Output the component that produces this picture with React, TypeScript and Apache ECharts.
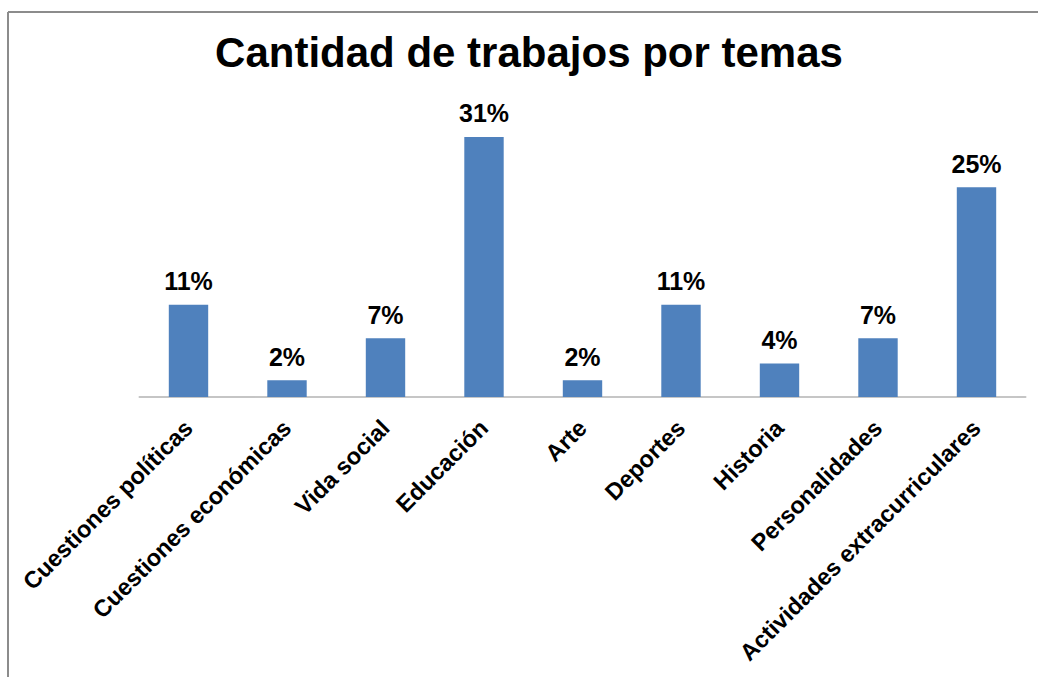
import React, { useEffect, useRef } from "react";
import * as echarts from "echarts";

const categories: string[] = [
  "Cuestiones políticas",
  "Cuestiones económicas",
  "Vida social",
  "Educación",
  "Arte",
  "Deportes",
  "Historia",
  "Personalidades",
  "Actividades extracurriculares",
];
const values: number[] = [11, 2, 7, 31, 2, 11, 4, 7, 25];
const titleText = "Cantidad de trabajos por temas";

const FONT = "'Liberation Sans', Arial, sans-serif";

export default function App() {
  const ref = useRef<HTMLDivElement>(null);
  useEffect(() => {
    if (!ref.current) return;
    const chart = echarts.init(ref.current, null, { renderer: "svg" });
    chart.setOption({
      animation: false,
      backgroundColor: "#ffffff",
      graphic: [
        {
          type: "line",
          shape: { x1: 8, y1: 12, x2: 1040, y2: 12 },
          style: { stroke: "#8c8c8c", lineWidth: 2 },
        },
        {
          type: "line",
          shape: { x1: 8, y1: 12, x2: 8, y2: 680 },
          style: { stroke: "#8c8c8c", lineWidth: 2 },
        },
        {
          type: "text",
          x: 529,
          y: 52,
          style: {
            text: titleText,
            fontFamily: FONT,
            fontWeight: "bold",
            fontSize: 42,
            fill: "#000000",
            textAlign: "center",
            textVerticalAlign: "middle",
          },
        },
      ],
      grid: { left: 139.25, right: 12.25, top: 103.4, bottom: 280, containLabel: false },
      xAxis: {
        type: "category",
        data: categories,
        axisLine: { show: true, lineStyle: { color: "#b3b3b3", width: 1.5 } },
        axisTick: { show: false },
        axisLabel: {
          rotate: 45,
          interval: 0,
          margin: 27,
          fontFamily: FONT,
          fontWeight: "bold",
          fontSize: 23.5,
          color: "#000000",
        },
      },
      yAxis: {
        type: "value",
        min: 0,
        max: 35,
        show: false,
        splitLine: { show: false },
      },
      series: [
        {
          type: "bar",
          data: values,
          barWidth: "40%",
          itemStyle: { color: "#4F81BD" },
          label: {
            show: true,
            position: "top",
            distance: 11,
            formatter: "{c}%",
            fontFamily: FONT,
            fontWeight: "bold",
            fontSize: 25,
            color: "#000000",
          },
        },
      ],
    });
    return () => chart.dispose();
  }, []);
  return (
    <div
      ref={ref}
      style={{ position: "absolute", left: 0, top: 0, width: 1038, height: 677 }}
    />
  );
}
